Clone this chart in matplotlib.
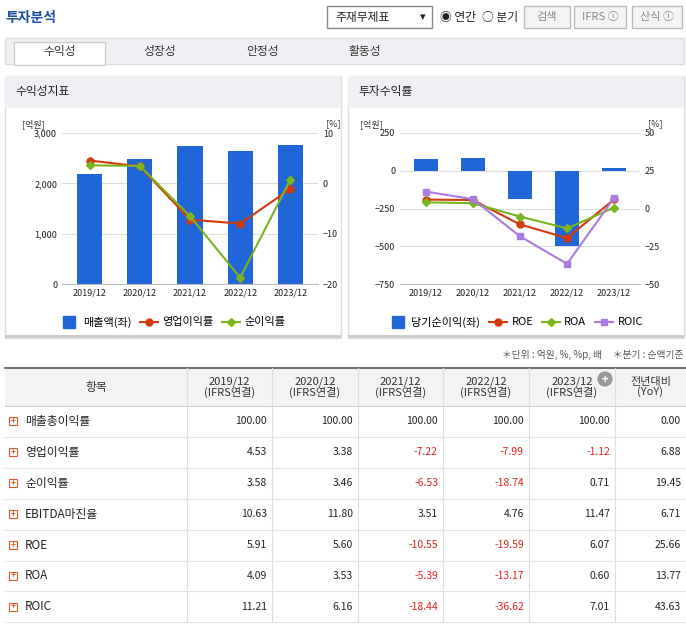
import matplotlib
matplotlib.use("Agg")
import matplotlib.pyplot as plt
from matplotlib.patches import Rectangle
from matplotlib.lines import Line2D

plt.rcParams['font.family'] = ['Noto Sans CJK KR', 'DejaVu Sans']

years = ['2019/12', '2020/12', '2021/12', '2022/12', '2023/12']
sales = [2180, 2480, 2750, 2650, 2770]
op_margin = [4.53, 3.38, -7.22, -7.99, -1.12]
net_margin = [3.58, 3.46, -6.53, -18.74, 0.71]
net_income = [80, 85, -190, -500, 15]
roe = [5.91, 5.60, -10.55, -19.59, 6.07]
roa = [4.09, 3.53, -5.39, -13.17, 0.60]
roic = [11.21, 6.16, -18.44, -36.62, 7.01]

row_names = ['매출총이익률', '영업이익률', '순이익률', 'EBITDA마진율', 'ROE', 'ROA', 'ROIC']
col_headers = ['2019/12\n(IFRS연결)', '2020/12\n(IFRS연결)', '2021/12\n(IFRS연결)',
               '2022/12\n(IFRS연결)', '2023/12\n(IFRS연결)', '전년대비\n(YoY)']
table = [
    [100.00, 100.00, 100.00, 100.00, 100.00, 0.00],
    [4.53, 3.38, -7.22, -7.99, -1.12, 6.88],
    [3.58, 3.46, -6.53, -18.74, 0.71, 19.45],
    [10.63, 11.80, 3.51, 4.76, 11.47, 6.71],
    [5.91, 5.60, -10.55, -19.59, 6.07, 25.66],
    [4.09, 3.53, -5.39, -13.17, 0.60, 13.77],
    [11.21, 6.16, -18.44, -36.62, 7.01, 43.63],
]

W, H = 686, 626
fig = plt.figure(figsize=(W/100, H/100), dpi=100)
bg = fig.add_axes([0, 0, 1, 1])
bg.set_xlim(0, W); bg.set_ylim(H, 0); bg.axis('off')

def rect(x, y, w, h, fc='none', ec='none', lw=1, z=1):
    bg.add_patch(Rectangle((x, y), w, h, facecolor=fc, edgecolor=ec, lw=lw, zorder=z))

def txt(x, y, s, size=8, color='#333333', ha='left', va='center', **kw):
    bg.text(x, y, s, fontsize=size, color=color, ha=ha, va=va, **kw)

# header
txt(5, 18, '투자분석', 10, '#1f4e9c', weight='bold')
rect(327, 6, 105, 22, fc='white', ec='#888888')
txt(335, 17, '주재무제표', 8.5, '#222222')
txt(426, 17, '▾', 8, '#222222', ha='right')
txt(440, 17, '◉ 연간', 8.5, '#222222')
txt(482, 17, '○ 분기', 8.5, '#222222')
for x0, w, s in [(524, 46, '검색'), (574, 52, 'IFRS ⓘ'), (632, 50, '산식 ⓘ')]:
    rect(x0, 6, w, 22, fc='#f4f4f4', ec='#bbbbbb')
    txt(x0 + w/2, 17, s, 8, '#888888', ha='center')

# tabs
rect(5, 38, 679, 26, fc='#eef0f3', ec='#dddddd')
rect(14, 42, 91, 23, fc='white', ec='#cccccc', z=2)
for x0, s in [(60, '수익성'), (160, '성장성'), (263, '안정성'), (365, '활동성')]:
    txt(x0, 51, s, 8.5, '#333333', ha='center', zorder=3)

# panels
for px, title in [(5, '수익성지표'), (348, '투자수익률')]:
    rect(px, 76, 336, 262, fc='white', ec='#dddddd')
    rect(px, 76, 336, 32, fc='#eef0f3')
    txt(px + 10, 92, title, 8.5, '#222222')
    rect(px, 335, 336, 3, fc='#cccccc')

blue = '#2166d9'; red = '#d23a0e'; green = '#7ab51d'; purple = '#a97be0'
x = range(len(years))

def make_axes(x0, x1, y0, y1):
    ax = fig.add_axes([x0/W, 1 - y1/H, (x1-x0)/W, (y1-y0)/H])
    ax.patch.set_alpha(0)
    for s in ['top', 'right', 'left']:
        ax.spines[s].set_visible(False)
    ax.spines['bottom'].set_color('#bbbbbb')
    ax.tick_params(axis='both', labelsize=6.5, length=0, colors='#222222')
    ax.grid(axis='y', color='#dddddd', lw=0.8)
    ax.set_axisbelow(True)
    ax2 = ax.twinx()
    for s in ax2.spines.values():
        s.set_visible(False)
    ax2.tick_params(axis='y', labelsize=6.5, length=0, colors='#222222')
    return ax, ax2

# left chart
ax, ax2 = make_axes(62, 318, 133, 284)
ax.bar(x, sales, width=0.5, color=blue)
ax.set_ylim(0, 3000); ax.set_yticks([0, 1000, 2000, 3000])
ax.set_yticklabels(['0', '1,000', '2,000', '3,000'])
ax.set_xticks(list(x)); ax.set_xticklabels(years)
ax.set_xlim(-0.55, 4.55)
ax2.plot(x, op_margin, color=red, marker='o', ms=5, lw=1.5)
ax2.plot(x, net_margin, color=green, marker='D', ms=4, lw=1.5)
ax2.set_ylim(-20, 10); ax2.set_yticks([-20, -10, 0, 10])
txt(22, 124, '[억원]', 6.5); txt(326, 124, '[%]', 6.5)

# right chart
bx, bx2 = make_axes(400, 640, 133, 284)
bx.bar(x, net_income, width=0.5, color=blue)
bx.set_ylim(-750, 250); bx.set_yticks([-750, -500, -250, 0, 250])
bx.set_xticks(list(x)); bx.set_xticklabels(years)
bx.set_xlim(-0.55, 4.55)
bx2.plot(x, roe, color=red, marker='o', ms=5, lw=1.5)
bx2.plot(x, roa, color=green, marker='D', ms=4, lw=1.5)
bx2.plot(x, roic, color=purple, marker='s', ms=5, lw=1.5)
bx2.set_ylim(-50, 50); bx2.set_yticks([-50, -25, 0, 25, 50])
txt(360, 124, '[억원]', 6.5); txt(648, 124, '[%]', 6.5)

leg_ax = fig.add_axes([0, 0, 1, 1]); leg_ax.axis('off')

h1 = [Line2D([], [], color=blue, marker='s', ms=9, lw=0),
      Line2D([], [], color=red, marker='o', ms=5, lw=1.5),
      Line2D([], [], color=green, marker='D', ms=4, lw=1.5)]
l1 = leg_ax.legend(h1, ['매출액(좌)', '영업이익률', '순이익률'], loc='center',
                   bbox_to_anchor=(173/W, 1 - 322/H), bbox_transform=fig.transFigure,
                   ncol=3, frameon=False, fontsize=8, handlelength=1.6,
                   columnspacing=0.8, handletextpad=0.4)
leg_ax.add_artist(l1)
h2 = [Line2D([], [], color=blue, marker='s', ms=9, lw=0),
      Line2D([], [], color=red, marker='o', ms=5, lw=1.5),
      Line2D([], [], color=green, marker='D', ms=4, lw=1.5),
      Line2D([], [], color=purple, marker='s', ms=5, lw=1.5)]
leg_ax.legend(h2, ['당기순이익(좌)', 'ROE', 'ROA', 'ROIC'], loc='center',
              bbox_to_anchor=(516/W, 1 - 322/H), bbox_transform=fig.transFigure,
              ncol=4, frameon=False, fontsize=8, handlelength=1.6,
              columnspacing=0.8, handletextpad=0.4)

# note
txt(684, 355, '＊단위 : 억원, %, %p, 배     ＊분기 : 순액기준', 7, '#555555', ha='right')

# table
cols = [5, 187, 272, 358, 443, 529, 615, 686]
ty0, th, rh = 368, 38, 30.9
rect(5, ty0, 681, th, fc='#f2f3f5')
bg.plot([5, 686], [ty0, ty0], color='#555555', lw=1.2)
bg.plot([5, 686], [ty0 + th, ty0 + th], color='#cccccc', lw=0.8)
txt(96, ty0 + th/2, '항목', 8.5, ha='center')
for i, h in enumerate(col_headers):
    cx = (cols[i+1] + cols[i+2]) / 2
    txt(cx, ty0 + th/2, h, 8, '#333333', ha='center', linespacing=1.0)
txt(605, 379, '+', 8, 'white', ha='center', weight='bold',
    bbox=dict(boxstyle='circle,pad=0.1', fc='#999999', ec='none'))
for c in cols[1:-1]:
    bg.plot([c, c], [ty0, 622], color='#dddddd', lw=0.8)
for r, name in enumerate(row_names):
    y = ty0 + th + r * rh
    bg.plot([5, 686], [y + rh, y + rh], color='#e3e3e3', lw=0.8)
    rect(9, y + rh/2 - 4, 8, 8, fc='white', ec='#e05a28', lw=0.8)
    txt(13, y + rh/2, '+', 6, '#e05a28', ha='center', weight='bold')
    txt(25, y + rh/2, name, 8.5, '#222222')
    for c, v in enumerate(table[r]):
        color = '#e0211c' if (v < 0 and c < 5) else '#222222'
        txt(cols[c+2] - 5, y + rh/2, f'{v:.2f}', 7.5, color, ha='right')

fig.savefig('out.png', dpi=100, facecolor='white')
